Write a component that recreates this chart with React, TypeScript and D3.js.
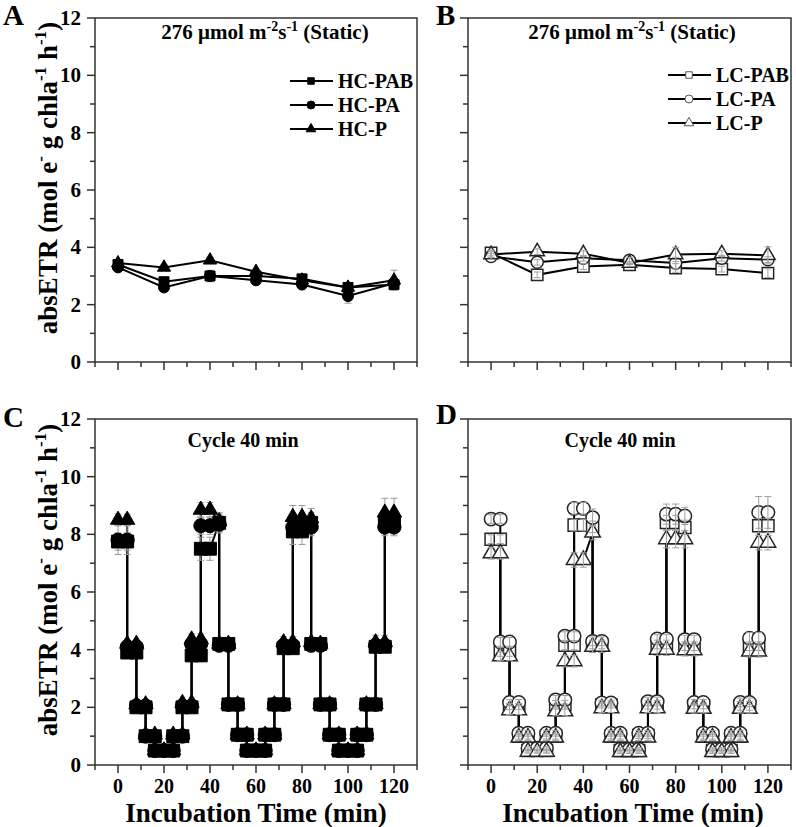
import React from "react";
import * as d3 from "d3";

const FONT = "'Liberation Serif', 'Times New Roman', Times, serif";

// ---------- Static panels (A, B) ----------
const staticTimes = [0, 20, 40, 60, 80, 100, 120];

const hcPAB_static = [3.4, 2.8, 3.0, 3.0, 2.9, 2.6, 2.7];
const hcPA_static = [3.3, 2.6, 3.0, 2.85, 2.7, 2.3, 2.75];
const hcP_static = [3.45, 3.3, 3.55, 3.15, 2.85, 2.6, 2.85];
const hcPAB_static_err = [0.1, 0.15, 0.2, 0.1, 0.1, 0.15, 0.15];
const hcPA_static_err = [0.1, 0.1, 0.15, 0.1, 0.1, 0.25, 0.15];
const hcP_static_err = [0.1, 0.1, 0.1, 0.1, 0.1, 0.15, 0.35];

const lcPAB_static = [3.8, 3.04, 3.33, 3.39, 3.28, 3.24, 3.1];
const lcPA_static = [3.68, 3.48, 3.62, 3.55, 3.45, 3.62, 3.57];
const lcP_static = [3.75, 3.85, 3.78, 3.45, 3.75, 3.78, 3.72];
const lcPAB_static_err = [0.1, 0.1, 0.1, 0.05, 0.15, 0.1, 0.15];
const lcPA_static_err = [0.1, 0.1, 0.1, 0.1, 0.2, 0.1, 0.1];
const lcP_static_err = [0.1, 0.1, 0.1, 0.05, 0.25, 0.1, 0.3];

// ---------- Cycle panels (C, D) ----------
const cycleTimes = [
  0, 4, 4, 8, 8, 12, 12, 16, 16, 20, 24, 24, 28, 28, 32, 32, 36, 36, 40, 44,
  44, 48, 48, 52, 52, 56, 56, 60, 64, 64, 68, 68, 72, 72, 76, 76, 80, 84,
  84, 88, 88, 92, 92, 96, 96, 100, 104, 104, 108, 108, 112, 112, 116, 116, 120,
];

const hcPAB_cycle = [
  7.75, 7.75, 3.9, 3.9, 2.0, 2.0, 1.0, 1.0, 0.5, 0.5, 0.5, 1.0, 1.0, 2.0, 2.0, 3.8, 3.8, 7.5, 7.5, 8.4,
  4.2, 4.2, 2.1, 2.1, 1.05, 1.05, 0.5, 0.5, 0.5, 1.05, 1.05, 2.1, 2.1, 4.05, 4.05, 8.1, 8.1, 8.4,
  4.2, 4.2, 2.1, 2.1, 1.05, 1.05, 0.5, 0.5, 0.5, 1.05, 1.05, 2.1, 2.1, 4.1, 4.1, 8.45, 8.45,
];
const hcPA_cycle = [
  7.8, 7.8, 4.1, 4.1, 2.05, 2.05, 1.0, 1.0, 0.5, 0.5, 0.5, 1.0, 1.0, 2.05, 2.05, 4.2, 4.2, 8.3, 8.3, 8.35,
  4.15, 4.15, 2.1, 2.1, 1.05, 1.05, 0.5, 0.5, 0.5, 1.05, 1.05, 2.1, 2.1, 4.15, 4.15, 8.25, 8.3, 8.25,
  4.15, 4.15, 2.1, 2.1, 1.05, 1.05, 0.5, 0.5, 0.5, 1.05, 1.05, 2.1, 2.1, 4.15, 4.15, 8.25, 8.25,
];
const hcP_cycle = [
  8.5, 8.5, 4.2, 4.2, 2.1, 2.1, 1.05, 1.05, 0.5, 0.5, 0.5, 1.05, 1.05, 2.15, 2.15, 4.35, 4.35, 8.85, 8.85, 8.45,
  4.2, 4.2, 2.1, 2.1, 1.05, 1.05, 0.5, 0.5, 0.5, 1.05, 1.05, 2.1, 2.1, 4.25, 4.25, 8.6, 8.6, 8.55,
  4.25, 4.2, 2.1, 2.1, 1.05, 1.05, 0.5, 0.5, 0.5, 1.05, 1.05, 2.1, 2.1, 4.25, 4.25, 8.75, 8.75,
];
const hcPAB_cycle_err = [
  0.3, 0.3, 0.1, 0.1, 0.1, 0.1, 0.05, 0.05, 0.05, 0.05, 0.05, 0.05, 0.05, 0.1, 0.1, 0.15, 0.15, 0.4, 0.4, 0.3,
  0.1, 0.1, 0.1, 0.1, 0.05, 0.05, 0.05, 0.05, 0.05, 0.05, 0.05, 0.1, 0.1, 0.15, 0.15, 0.45, 0.45, 0.35,
  0.15, 0.15, 0.1, 0.1, 0.05, 0.05, 0.05, 0.05, 0.05, 0.05, 0.05, 0.1, 0.1, 0.15, 0.15, 0.3, 0.3,
];
const hcPA_cycle_err = [
  0.5, 0.5, 0.1, 0.1, 0.1, 0.1, 0.05, 0.05, 0.05, 0.05, 0.05, 0.05, 0.05, 0.1, 0.1, 0.2, 0.2, 0.3, 0.3, 0.3,
  0.1, 0.1, 0.1, 0.1, 0.05, 0.05, 0.05, 0.05, 0.05, 0.05, 0.05, 0.1, 0.1, 0.2, 0.2, 0.35, 0.35, 0.3,
  0.15, 0.15, 0.1, 0.1, 0.05, 0.05, 0.05, 0.05, 0.05, 0.05, 0.05, 0.1, 0.1, 0.2, 0.2, 0.3, 0.3,
];
const hcP_cycle_err = [
  0.2, 0.2, 0.1, 0.1, 0.1, 0.1, 0.05, 0.05, 0.05, 0.05, 0.05, 0.05, 0.05, 0.1, 0.1, 0.2, 0.2, 0.25, 0.25, 0.3,
  0.1, 0.1, 0.1, 0.1, 0.05, 0.05, 0.05, 0.05, 0.05, 0.05, 0.05, 0.1, 0.1, 0.2, 0.2, 0.4, 0.4, 0.35,
  0.15, 0.15, 0.1, 0.1, 0.05, 0.05, 0.05, 0.05, 0.05, 0.05, 0.05, 0.1, 0.1, 0.25, 0.25, 0.5, 0.5,
];

const lcPAB_cycle = [
  7.83, 7.83, 3.92, 3.92, 2.03, 2.03, 1.0, 1.0, 0.5, 0.5, 0.5, 1.0, 1.0, 2.09, 2.09, 4.15, 4.15, 8.32, 8.32, 8.26,
  4.18, 4.18, 2.08, 2.08, 1.0, 1.0, 0.5, 0.5, 0.5, 1.02, 1.02, 2.09, 2.09, 4.18, 4.18, 8.41, 8.41, 8.24,
  4.12, 4.12, 2.05, 2.05, 1.0, 1.0, 0.5, 0.5, 0.5, 1.0, 1.0, 2.05, 2.05, 4.12, 4.12, 8.3, 8.3,
];
const lcPA_cycle = [
  8.53, 8.53, 4.27, 4.27, 2.17, 2.17, 1.1, 1.1, 0.58, 0.58, 0.58, 1.1, 1.1, 2.26, 2.26, 4.47, 4.47, 8.9, 8.9, 8.58,
  4.29, 4.29, 2.15, 2.15, 1.1, 1.1, 0.55, 0.55, 0.55, 1.1, 1.1, 2.2, 2.2, 4.37, 4.37, 8.7, 8.7, 8.64,
  4.35, 4.35, 2.17, 2.17, 1.1, 1.1, 0.55, 0.55, 0.55, 1.1, 1.1, 2.17, 2.17, 4.4, 4.4, 8.76, 8.76,
];
const lcP_cycle = [
  7.34, 7.34, 3.77, 3.77, 1.9, 1.9, 0.95, 0.95, 0.46, 0.46, 0.46, 0.95, 0.95, 1.86, 1.86, 3.6, 3.6, 7.11, 7.11, 8.06,
  4.1, 4.1, 1.97, 1.97, 0.95, 0.95, 0.45, 0.45, 0.45, 0.95, 0.95, 1.97, 1.97, 4.0, 4.0, 7.83, 7.83, 7.83,
  3.98, 3.98, 1.95, 1.95, 0.95, 0.95, 0.45, 0.45, 0.45, 0.95, 0.95, 1.95, 1.95, 3.94, 3.94, 7.71, 7.71,
];
const lcPAB_cycle_err = [
  0.15, 0.15, 0.15, 0.15, 0.1, 0.1, 0.1, 0.1, 0.05, 0.05, 0.05, 0.1, 0.1, 0.15, 0.15, 0.15, 0.15, 0.2, 0.2, 0.2,
  0.15, 0.15, 0.1, 0.1, 0.1, 0.1, 0.05, 0.05, 0.05, 0.1, 0.1, 0.15, 0.15, 0.15, 0.15, 0.25, 0.25, 0.25,
  0.15, 0.15, 0.1, 0.1, 0.1, 0.1, 0.05, 0.05, 0.05, 0.1, 0.1, 0.15, 0.15, 0.15, 0.15, 0.25, 0.25,
];
const lcPA_cycle_err = [
  0.15, 0.15, 0.15, 0.15, 0.1, 0.1, 0.1, 0.1, 0.05, 0.05, 0.05, 0.1, 0.1, 0.15, 0.15, 0.15, 0.15, 0.2, 0.2, 0.3,
  0.15, 0.15, 0.1, 0.1, 0.1, 0.1, 0.05, 0.05, 0.05, 0.1, 0.1, 0.15, 0.15, 0.15, 0.15, 0.35, 0.35, 0.3,
  0.15, 0.15, 0.1, 0.1, 0.1, 0.1, 0.05, 0.05, 0.05, 0.1, 0.1, 0.15, 0.15, 0.2, 0.2, 0.55, 0.55,
];
const lcP_cycle_err = [
  0.2, 0.2, 0.15, 0.15, 0.15, 0.15, 0.1, 0.1, 0.05, 0.05, 0.05, 0.1, 0.1, 0.15, 0.15, 0.2, 0.2, 0.25, 0.25, 0.25,
  0.2, 0.2, 0.15, 0.15, 0.1, 0.1, 0.05, 0.05, 0.05, 0.1, 0.1, 0.15, 0.15, 0.2, 0.2, 0.3, 0.3, 0.3,
  0.2, 0.2, 0.15, 0.15, 0.1, 0.1, 0.05, 0.05, 0.05, 0.1, 0.1, 0.15, 0.15, 0.2, 0.2, 0.25, 0.25,
];

const hcNames = ["HC-PAB", "HC-PA", "HC-P"];
const lcNames = ["LC-PAB", "LC-PA", "LC-P"];
const shapes = ["square", "circle", "triangle"];
const xTickValues = [0, 20, 40, 60, 80, 100, 120];
const yTickValues = [0, 2, 4, 6, 8, 10, 12];
const panelLetters = ["A", "B", "C", "D"];

type Series = { name: string; shape: string; values: number[]; err: number[] };

function symbolPath(shape: string, size: number) {
  const t =
    shape === "square" ? d3.symbolSquare : shape === "circle" ? d3.symbolCircle : d3.symbolTriangle;
  return d3.symbol().type(t).size(size)() as string;
}

type PanelProps = {
  x0: number; x1: number; y0: number; y1: number;
  times: number[]; series: Series[]; hollow: boolean;
  sizes: Record<string, number>;
  showXLabels: boolean; showYLabels: boolean;
};

function Panel({ x0, x1, y0, y1, times, series, hollow, sizes, showXLabels, showYLabels }: PanelProps) {
  const x = d3.scaleLinear().domain([-10, 130]).range([x0, x1]);
  const y = d3.scaleLinear().domain([0, 12]).range([y1, y0]);
  const line = d3
    .line<number>()
    .x((_, i) => x(times[i]))
    .y((v) => y(v));
  const minorX = d3.range(-10, 131, 10).filter((v) => v % 20 !== 0);
  const minorY = d3.range(1, 12, 2);
  const axisColor = "#333";
  const markStroke = hollow ? "#262626" : "#000";

  const errorBars = series.map((s) => (
    <g key={"e" + s.name} stroke={hollow ? "#a0a0a0" : "#9a9a9a"} strokeWidth={1}>
      {s.values.map((v, i) => {
        const cx = x(times[i]);
        const top = y(v + s.err[i]);
        const bot = y(v - s.err[i]);
        return (
          <g key={i}>
            <line x1={cx} x2={cx} y1={top} y2={bot} />
            <line x1={cx - 3.5} x2={cx + 3.5} y1={top} y2={top} />
            <line x1={cx - 3.5} x2={cx + 3.5} y1={bot} y2={bot} />
          </g>
        );
      })}
    </g>
  ));

  return (
    <g>
      {/* ticks */}
      {xTickValues.map((v) => (
        <line key={"xt" + v} x1={x(v)} x2={x(v)} y1={y1} y2={y1 + 8} stroke={axisColor} strokeWidth={1.5} />
      ))}
      {minorX.map((v) => (
        <line key={"xm" + v} x1={x(v)} x2={x(v)} y1={y1} y2={y1 + 5} stroke={axisColor} strokeWidth={1.5} />
      ))}
      {yTickValues.map((v) => (
        <line key={"yt" + v} x1={x0 - 8} x2={x0} y1={y(v)} y2={y(v)} stroke={axisColor} strokeWidth={1.5} />
      ))}
      {minorY.map((v) => (
        <line key={"ym" + v} x1={x0 - 5} x2={x0} y1={y(v)} y2={y(v)} stroke={axisColor} strokeWidth={1.5} />
      ))}
      {showYLabels &&
        yTickValues.map((v) => (
          <text key={"yl" + v} x={x0 - 14} y={y(v) + 7} textAnchor="end" fontFamily={FONT} fontWeight="bold" fontSize={21} fill="#000">
            {v}
          </text>
        ))}
      {showXLabels &&
        xTickValues.map((v) => (
          <text key={"xl" + v} x={x(v)} y={y1 + 28} textAnchor="middle" fontFamily={FONT} fontWeight="bold" fontSize={20} fill="#000">
            {v}
          </text>
        ))}
      {/* lines */}
      {series.map((s) => (
        <path key={"l" + s.name} d={line(s.values) as string} fill="none" stroke="#000" strokeWidth={2} />
      ))}
      {!hollow && errorBars}
      {/* markers */}
      {series.map((s) => (
        <g key={"m" + s.name}>
          {s.values.map((v, i) => (
            <path
              key={i}
              d={symbolPath(s.shape, sizes[s.shape])}
              transform={`translate(${x(times[i])},${y(v)})`}
              fill={hollow ? "#fff" : "#000"}
              stroke={markStroke}
              strokeWidth={hollow ? 1.5 : 1}
            />
          ))}
        </g>
      ))}
      {hollow && errorBars}
      {/* frame */}
      <rect x={x0} y={y0} width={x1 - x0} height={y1 - y0} fill="none" stroke={axisColor} strokeWidth={1.5} />
    </g>
  );
}

function Legend({ x, y, names, hollow }: { x: number; y: number; names: string[]; hollow: boolean }) {
  const legendSizes: Record<string, number> = { square: 42, circle: 50, triangle: 40 };
  return (
    <g>
      {names.map((n, i) => {
        const cy = y + i * 24;
        return (
          <g key={n}>
            <line x1={x} x2={x + 43} y1={cy} y2={cy} stroke="#000" strokeWidth={2} />
            <path
              d={symbolPath(shapes[i], legendSizes[shapes[i]])}
              transform={`translate(${x + 21},${cy})`}
              fill={hollow ? "#fff" : "#000"}
              stroke={hollow ? "#555" : "#000"}
              strokeWidth={1}
            />
            <text x={x + 48} y={cy + 7} fontFamily={FONT} fontWeight="bold" fontSize={20} fill="#000">
              {n}
            </text>
          </g>
        );
      })}
    </g>
  );
}

function StaticTitle({ cx, y }: { cx: number; y: number }) {
  return (
    <text x={cx} y={y} textAnchor="middle" fontFamily={FONT} fontWeight="bold" fontSize={21} fill="#000">
      276 μmol m
      <tspan dy={-8} fontSize={14}>-2</tspan>
      <tspan dy={8}>s</tspan>
      <tspan dy={-8} fontSize={14}>-1</tspan>
      <tspan dy={8}> (Static)</tspan>
    </text>
  );
}

function YTitle({ cx, cy }: { cx: number; cy: number }) {
  return (
    <text
      transform={`translate(${cx},${cy}) rotate(-90)`}
      textAnchor="middle"
      fontFamily={FONT}
      fontWeight="bold"
      fontSize={27}
      fill="#000"
    >
      absETR (mol e
      <tspan dy={-11} fontSize={17}>-</tspan>
      <tspan dy={11}> g chla</tspan>
      <tspan dy={-11} fontSize={17}>-1</tspan>
      <tspan dy={11}> h</tspan>
      <tspan dy={-11} fontSize={17}>-1</tspan>
      <tspan dy={11}>)</tspan>
    </text>
  );
}

export default function App() {
  const hcStatic: Series[] = [
    { name: hcNames[0], shape: shapes[0], values: hcPAB_static, err: hcPAB_static_err },
    { name: hcNames[1], shape: shapes[1], values: hcPA_static, err: hcPA_static_err },
    { name: hcNames[2], shape: shapes[2], values: hcP_static, err: hcP_static_err },
  ];
  const lcStatic: Series[] = [
    { name: lcNames[0], shape: shapes[0], values: lcPAB_static, err: lcPAB_static_err },
    { name: lcNames[1], shape: shapes[1], values: lcPA_static, err: lcPA_static_err },
    { name: lcNames[2], shape: shapes[2], values: lcP_static, err: lcP_static_err },
  ];
  const hcCycle: Series[] = [
    { name: hcNames[0], shape: shapes[0], values: hcPAB_cycle, err: hcPAB_cycle_err },
    { name: hcNames[1], shape: shapes[1], values: hcPA_cycle, err: hcPA_cycle_err },
    { name: hcNames[2], shape: shapes[2], values: hcP_cycle, err: hcP_cycle_err },
  ];
  const lcCycle: Series[] = [
    { name: lcNames[0], shape: shapes[0], values: lcPAB_cycle, err: lcPAB_cycle_err },
    { name: lcNames[1], shape: shapes[1], values: lcPA_cycle, err: lcPA_cycle_err },
    { name: lcNames[2], shape: shapes[2], values: lcP_cycle, err: lcP_cycle_err },
  ];
  const sizesA = { square: 100, circle: 95, triangle: 75 };
  const sizesB = { square: 130, circle: 115, triangle: 90 };
  const sizesC = { square: 165, circle: 155, triangle: 100 };
  const sizesD = { square: 145, circle: 140, triangle: 105 };

  return (
    <svg
      width={796}
      height={827}
      viewBox="0 0 796 827"
      style={{ position: "absolute", left: 0, top: 0, background: "#fff" }}
    >
      <rect x={0} y={0} width={796} height={827} fill="#fff" />
      <Panel x0={95} x1={417} y0={18} y1={362} times={staticTimes} series={hcStatic} hollow={false} sizes={sizesA} showXLabels={false} showYLabels={true} />
      <Panel x0={468} x1={791} y0={18} y1={362} times={staticTimes} series={lcStatic} hollow={true} sizes={sizesB} showXLabels={false} showYLabels={false} />
      <Panel x0={95} x1={417} y0={419} y1={765} times={cycleTimes} series={hcCycle} hollow={false} sizes={sizesC} showXLabels={true} showYLabels={true} />
      <Panel x0={468} x1={791} y0={419} y1={765} times={cycleTimes} series={lcCycle} hollow={true} sizes={sizesD} showXLabels={true} showYLabels={false} />

      <StaticTitle cx={265} y={39} />
      <StaticTitle cx={632} y={39} />
      <text x={243} y={447} textAnchor="middle" fontFamily={FONT} fontWeight="bold" fontSize={20}>Cycle 40 min</text>
      <text x={620} y={447} textAnchor="middle" fontFamily={FONT} fontWeight="bold" fontSize={20}>Cycle 40 min</text>

      <Legend x={290} y={81} names={hcNames} hollow={false} />
      <Legend x={668} y={75} names={lcNames} hollow={true} />

      <YTitle cx={57} cy={178} />
      <YTitle cx={57} cy={580} />

      <text x={256} y={822} textAnchor="middle" fontFamily={FONT} fontWeight="bold" fontSize={27}>Incubation Time (min)</text>
      <text x={633} y={822} textAnchor="middle" fontFamily={FONT} fontWeight="bold" fontSize={27}>Incubation Time (min)</text>

      <text x={3} y={25} fontFamily={FONT} fontWeight="bold" fontSize={29}>{panelLetters[0]}</text>
      <text x={436} y={25} fontFamily={FONT} fontWeight="bold" fontSize={29}>{panelLetters[1]}</text>
      <text x={3} y={427} fontFamily={FONT} fontWeight="bold" fontSize={29}>{panelLetters[2]}</text>
      <text x={436} y={424} fontFamily={FONT} fontWeight="bold" fontSize={29}>{panelLetters[3]}</text>
    </svg>
  );
}
